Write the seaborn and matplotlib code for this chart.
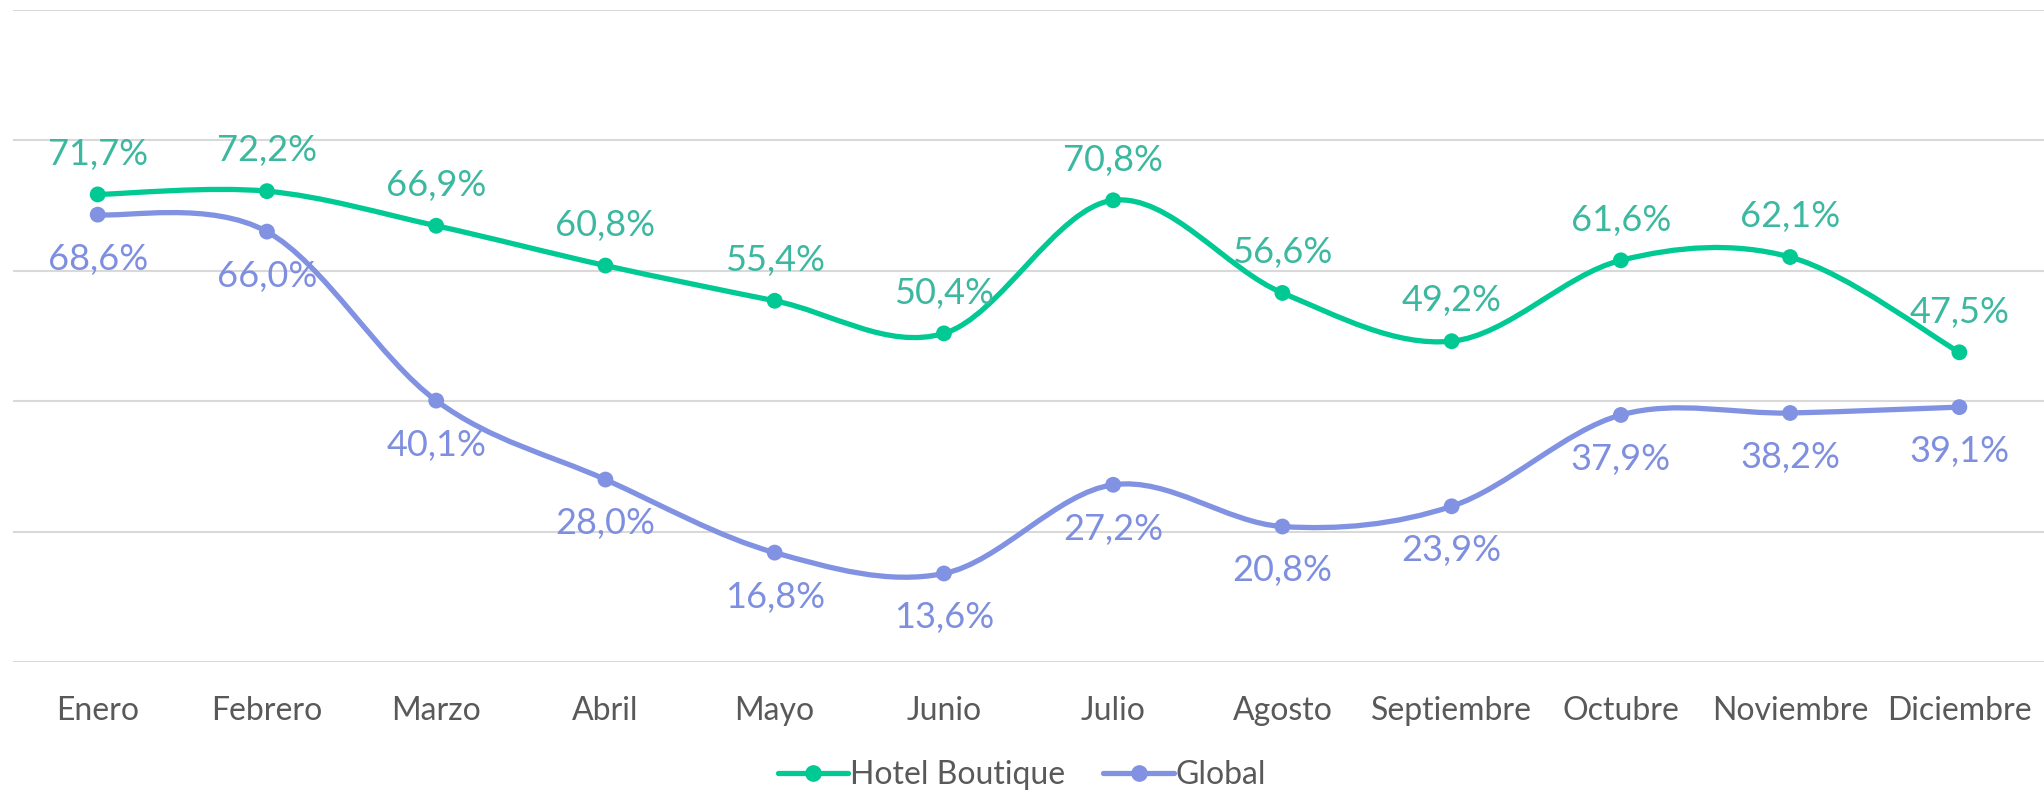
import numpy as np
import pandas as pd
import matplotlib.pyplot as plt
import seaborn as sns
from matplotlib.path import Path
from matplotlib.patches import PathPatch
from matplotlib.lines import Line2D

# --- data ---
months = ["Enero", "Febrero", "Marzo", "Abril", "Mayo", "Junio", "Julio",
          "Agosto", "Septiembre", "Octubre", "Noviembre", "Diciembre"]
hotel_boutique = [71.7, 72.2, 66.9, 60.8, 55.4, 50.4, 70.8, 56.6, 49.2, 61.6, 62.1, 47.5]
global_occ = [68.6, 66.0, 40.1, 28.0, 16.8, 13.6, 27.2, 20.8, 23.9, 37.9, 38.2, 39.1]

GREEN = "#00C994"
GREEN_TXT = "#3DB8A0"
BLUE = "#8192E2"
BLUE_TXT = "#7F8FE0"
GREY = "#595959"

sns.set_theme(style="white")
plt.rcParams['font.family'] = ['Lato', 'DejaVu Sans']

df = pd.DataFrame({
    "x": list(range(len(months))) * 2,
    "value": hotel_boutique + global_occ,
    "serie": ["Hotel Boutique"] * len(months) + ["Global"] * len(months),
})

fig = plt.figure(figsize=(20.44, 7.95), dpi=100)
ax = fig.add_axes([0.0064, 0.167, 0.9936, 0.8207])


def smooth_path(xs, ys):
    # Excel-style smoothed line: cubic bezier segments through each point
    pts = np.column_stack([xs, ys]).astype(float)
    ext = np.vstack([pts[0], pts, pts[-1]])
    verts = [tuple(pts[0])]
    codes = [Path.MOVETO]
    for i in range(len(pts) - 1):
        p0, p1, p2, p3 = ext[i], ext[i + 1], ext[i + 2], ext[i + 3]
        c1 = p1 + (p2 - p0) / 6.0
        c2 = p2 - (p3 - p1) / 6.0
        verts += [tuple(c1), tuple(c2), tuple(p2)]
        codes += [Path.CURVE4] * 3
    return Path(verts, codes)


xs = np.arange(len(months))
for vals, col in [(hotel_boutique, GREEN), (global_occ, BLUE)]:
    ax.add_patch(PathPatch(smooth_path(xs, vals), facecolor="none",
                           edgecolor=col, lw=3.8, capstyle="round", zorder=3))

sns.scatterplot(data=df, x="x", y="value", hue="serie",
                palette={"Hotel Boutique": GREEN, "Global": BLUE},
                s=130, edgecolor="none", legend=False, ax=ax, zorder=4)

for i in range(len(months)):
    ax.annotate(f"{hotel_boutique[i]:.1f}%".replace(".", ","), (i, hotel_boutique[i]),
                xytext=(0, 29), textcoords="offset points", ha="center", va="center",
                fontsize=26, color=GREEN_TXT)
    ax.annotate(f"{global_occ[i]:.1f}%".replace(".", ","), (i, global_occ[i]),
                xytext=(0, -32), textcoords="offset points", ha="center", va="center",
                fontsize=26, color=BLUE_TXT)

ax.set_xlim(-0.5, len(months) - 0.5)
ax.set_ylim(0, 100)
ax.set_yticks(range(0, 101, 20))
ax.set_yticklabels([])
ax.tick_params(axis="y", length=0)
ax.yaxis.grid(True, color="#D9D9D9", lw=1.5)
ax.set_xticks(xs)
ax.set_xticklabels(months, fontsize=23, color=GREY)
ax.tick_params(axis="x", length=0, pad=24)
ax.set_xlabel("")
ax.set_ylabel("")
for sp in ax.spines.values():
    sp.set_visible(False)

handles = [
    Line2D([], [], color=GREEN, lw=3.8, marker="o", markersize=11),
    Line2D([], [], color=BLUE, lw=3.8, marker="o", markersize=11),
]
fig.legend(handles, ["Hotel Boutique", "Global"], loc="center",
           bbox_to_anchor=(0.5, 0.025), ncol=2, frameon=False, fontsize=23,
           labelcolor=GREY, handlelength=2.2, handletextpad=0.05, columnspacing=1.2)

fig.savefig("out.png", dpi=100)
